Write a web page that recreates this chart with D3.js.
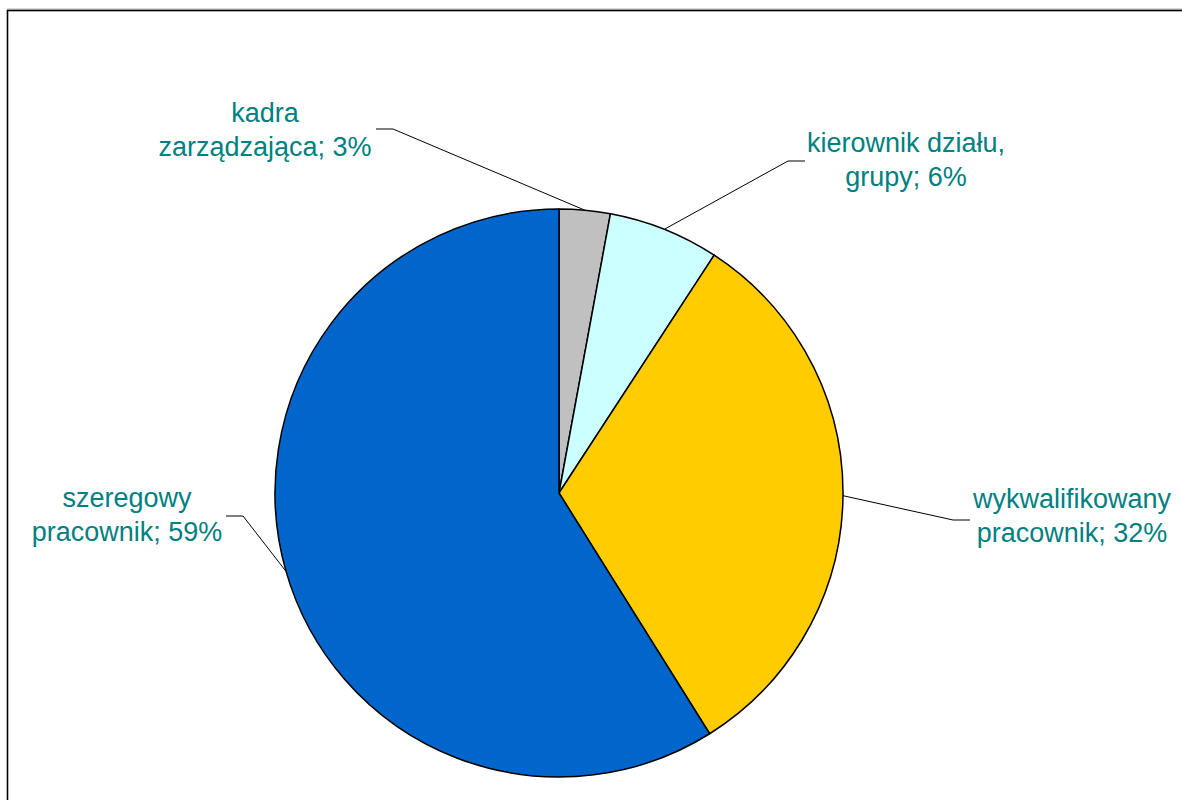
<!DOCTYPE html>
<html>
<head>
<meta charset="utf-8">
<script src="https://cdn.jsdelivr.net/npm/d3@7"></script>
<style>
  body { margin: 0; background: #ffffff; }
</style>
</head>
<body>
<script>
// data
const categories = ["kadra zarządzająca", "kierownik działu, grupy", "wykwalifikowany pracownik", "szeregowy pracownik"];
const values = [2.9, 6.3, 31.9, 58.9];
const colors = ["#C0C0C0", "#CCFFFF", "#FFCC00", "#0066CC"];
// label text broken into lines
const labelLines = [
    ["kadra", "zarządzająca; 3%"],
    ["kierownik działu,", "grupy; 6%"],
    ["wykwalifikowany", "pracownik; 32%"],
    ["szeregowy", "pracownik; 59%"]
];

// layout (label centre x / first baseline relative to pie centre, elbow of the leader line)
const labelLayout = [
    { dx: -294, dy: -371, elbow: [-166, -364], side: -1 },
    { dx: 347,  dy: -341, elbow: [229, -332],  side: 1 },
    { dx: 513,  dy: 15,   elbow: [394, 27],    side: 1 },
    { dx: -432, dy: 14,   elbow: [-316, 23],   side: -1 }
];

const width = 1182, height = 800;
const cx = 559, cy = 493, radius = 284;
const fontSize = 27, lineGap = 34;

const svg = d3.select("body")
    .append("svg")
    .attr("width", width)
    .attr("height", height)
    .attr("font-family", "'Liberation Sans', Arial, sans-serif");

svg.append("rect")
    .attr("width", width)
    .attr("height", height)
    .attr("fill", "#ffffff");

// chart frame (runs off the right and bottom edge)
svg.append("line")
    .attr("x1", 7).attr("x2", width)
    .attr("y1", 9).attr("y2", 9)
    .attr("stroke", "#b0b0b0")
    .attr("stroke-width", 1);

svg.append("rect")
    .attr("x", 7.5)
    .attr("y", 10.5)
    .attr("width", width + 20)
    .attr("height", height + 20)
    .attr("fill", "none")
    .attr("stroke", "#000000")
    .attr("stroke-width", 1.6);

const data = categories.map((c, i) => ({ name: c, value: values[i], color: colors[i], lines: labelLines[i], layout: labelLayout[i] }));

const pie = d3.pie()
    .value(d => d.value)
    .sort(null);

const arc = d3.arc()
    .innerRadius(0)
    .outerRadius(radius);

const g = svg.append("g")
    .attr("transform", `translate(${cx},${cy})`);

const arcs = pie(data);

g.selectAll("path.slice")
    .data(arcs)
    .join("path")
    .attr("class", "slice")
    .attr("d", arc)
    .attr("fill", d => d.data.color)
    .attr("stroke", "#000000")
    .attr("stroke-width", 1.5)
    .attr("stroke-linejoin", "round");

// leader lines from slice mid-angle to label
g.selectAll("polyline.leader")
    .data(arcs)
    .join("polyline")
    .attr("class", "leader")
    .attr("fill", "none")
    .attr("stroke", "#000000")
    .attr("stroke-width", 1)
    .attr("points", d => {
        const a = (d.startAngle + d.endAngle) / 2;
        const p0 = [Math.sin(a) * radius, -Math.cos(a) * radius];
        const e = d.data.layout.elbow;
        const p2 = [e[0] + d.data.layout.side * 17, e[1]];
        return [p0, e, p2].map(p => p.join(",")).join(" ");
    });

// labels
const labels = g.selectAll("text.label")
    .data(arcs)
    .join("text")
    .attr("class", "label")
    .attr("text-anchor", "middle")
    .attr("font-size", fontSize)
    .attr("fill", "#008080");

labels.selectAll("tspan")
    .data(d => d.data.lines.map((t, i) => ({ t, i, l: d.data.layout })))
    .join("tspan")
    .attr("x", d => d.l.dx)
    .attr("y", d => d.l.dy + d.i * lineGap)
    .text(d => d.t);
</script>
</body>
</html>
